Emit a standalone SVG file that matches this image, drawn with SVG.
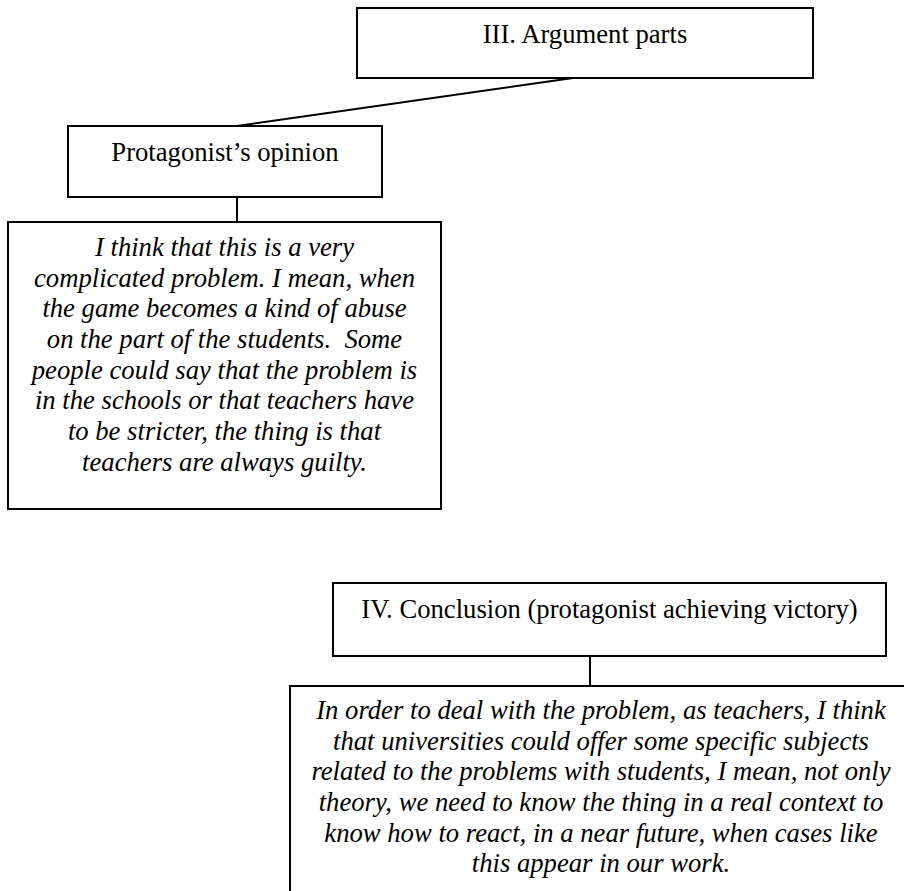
<svg xmlns="http://www.w3.org/2000/svg" width="904" height="891" viewBox="0 0 904 891">
  <style>
    .box { fill: #ffffff; stroke: #000000; stroke-width: 2; }
    .link { fill: none; stroke: #000000; stroke-width: 2; }
    .label { font-family: "Liberation Serif", "Times New Roman", serif; font-size: 26.67px; fill: #000000; text-anchor: middle; }
    .quote { font-family: "Liberation Serif", "Times New Roman", serif; font-size: 26.67px; font-style: italic; fill: #000000; text-anchor: middle; white-space: pre; }
  </style>
  <rect width="904" height="891" fill="#ffffff"/>

  <g id="connectors">
    <line class="link" x1="573" y1="78" x2="237" y2="126"/>
    <line class="link" x1="237" y1="197" x2="237" y2="222"/>
    <line class="link" x1="590" y1="656" x2="590" y2="686"/>
  </g>

  <g id="argument-parts">
    <rect class="box" x="357" y="8" width="456" height="70"/>
    <text class="label" x="585" y="43">III. Argument parts</text>
  </g>

  <g id="protagonist-opinion">
    <rect class="box" x="68" y="126" width="314" height="71"/>
    <text class="label" x="225" y="161">Protagonist’s opinion</text>
  </g>

  <g id="opinion-quote">
    <rect class="box" x="8" y="222" width="433" height="287"/>
    <text class="quote" x="224.5" y="256">I think that this is a very</text>
    <text class="quote" x="224.5" y="286.7">complicated problem. I mean, when</text>
    <text class="quote" x="224.5" y="317.3">the game becomes a kind of abuse</text>
    <text class="quote" x="224.5" y="348">on the part of the students.&#160; Some</text>
    <text class="quote" x="224.5" y="378.7">people could say that the problem is</text>
    <text class="quote" x="224.5" y="409.3">in the schools or that teachers have</text>
    <text class="quote" x="224.5" y="440">to be stricter, the thing is that</text>
    <text class="quote" x="224.5" y="470.7">teachers are always guilty.</text>
  </g>

  <g id="conclusion">
    <rect class="box" x="333" y="583" width="553" height="73"/>
    <text class="label" x="609.5" y="618">IV. Conclusion (protagonist achieving victory)</text>
  </g>

  <g id="conclusion-quote">
    <rect class="box" x="290" y="686" width="622" height="240"/>
    <text class="quote" x="601" y="719">In order to deal with the problem, as teachers, I think</text>
    <text class="quote" x="601" y="749.7">that universities could offer some specific subjects</text>
    <text class="quote" x="601" y="780.3">related to the problems with students, I mean, not only</text>
    <text class="quote" x="601" y="811">theory, we need to know the thing in a real context to</text>
    <text class="quote" x="601" y="841.7">know how to react, in a near future, when cases like</text>
    <text class="quote" x="601" y="872.3">this appear in our work.</text>
  </g>
</svg>
